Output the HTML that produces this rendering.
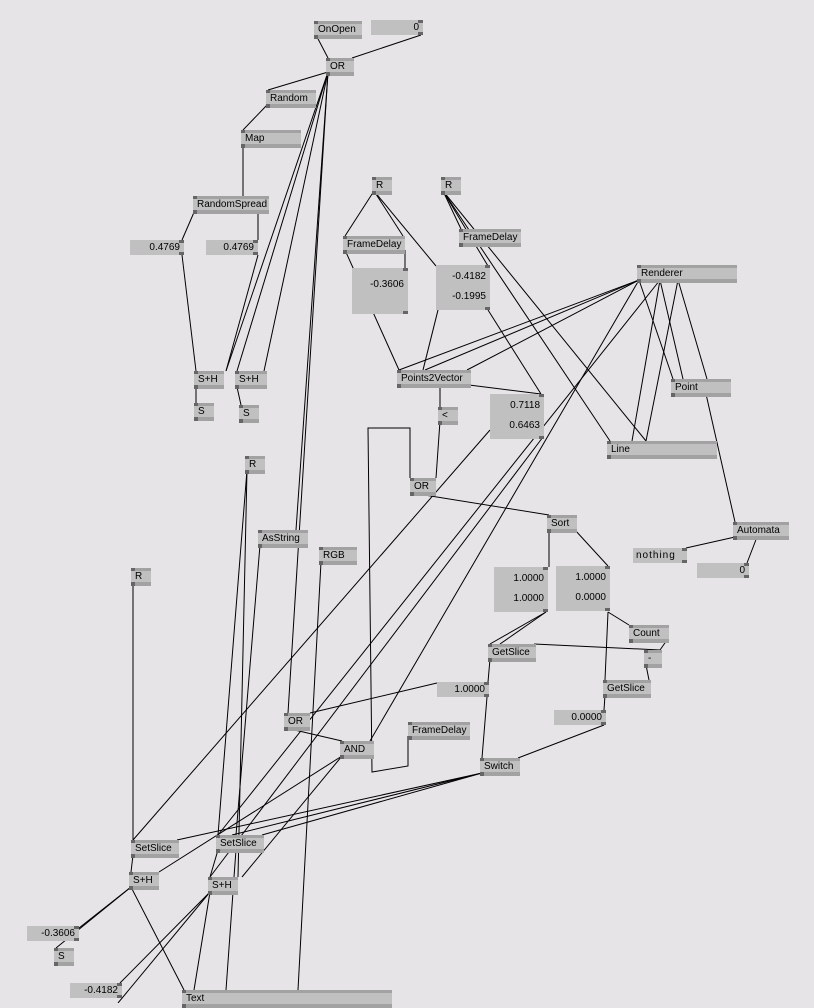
<!DOCTYPE html>
<html><head><meta charset="utf-8"><style>
html,body{margin:0;padding:0}
body{width:814px;height:1003px;background:#e7e4e7;position:relative;overflow:hidden;font-family:"Liberation Sans",sans-serif;font-size:10px;color:#000}
svg{position:absolute;left:0;top:0}
.n{position:absolute;height:11px;background:#c0c0c0;border-top:3px solid #a2a2a2;border-bottom:4px solid #a2a2a2;line-height:11px;padding-left:4px;box-sizing:content-box;white-space:nowrap}
.n::before{content:"";position:absolute;left:0;top:-3px;width:4px;height:3px;background:#666}
.n::after{content:"";position:absolute;left:0;bottom:-4px;width:4px;height:4px;background:#666}
.io{position:absolute;background:#c0c0c0;text-align:right;padding-right:4px;box-sizing:border-box;line-height:15px}
.io::before{content:"";position:absolute;right:0;top:0;width:5px;height:3px;background:#666}
.io::after{content:"";position:absolute;right:0;bottom:0;width:5px;height:3px;background:#666}
.io2{line-height:20px;padding-top:2px}
</style></head><body>
<svg width="814" height="1003" stroke="#000" stroke-width="1" fill="none">
<line x1="316" y1="35" x2="328" y2="58"/>
<line x1="421" y1="35" x2="352" y2="58"/>
<line x1="328" y1="72" x2="268" y2="90"/>
<line x1="328" y1="72" x2="226" y2="371"/>
<line x1="328" y1="72" x2="237" y2="371"/>
<line x1="328" y1="72" x2="264" y2="371"/>
<line x1="328" y1="72" x2="296" y2="530"/>
<line x1="328" y1="72" x2="288" y2="713"/>
<line x1="268" y1="104" x2="243" y2="130"/>
<line x1="243" y1="144" x2="243" y2="196"/>
<line x1="195" y1="210" x2="182" y2="240"/>
<line x1="258" y1="210" x2="258" y2="240"/>
<line x1="182" y1="255" x2="196" y2="371"/>
<line x1="258" y1="255" x2="226" y2="371"/>
<line x1="196" y1="387" x2="196" y2="403"/>
<line x1="237" y1="387" x2="241" y2="405"/>
<line x1="374" y1="191" x2="345" y2="236"/>
<line x1="374" y1="191" x2="403" y2="236"/>
<line x1="374" y1="191" x2="436" y2="266"/>
<line x1="443" y1="191" x2="461" y2="229"/>
<line x1="443" y1="191" x2="488" y2="266"/>
<line x1="443" y1="191" x2="610" y2="441"/>
<line x1="443" y1="191" x2="646" y2="441"/>
<line x1="345" y1="250" x2="399" y2="370"/>
<line x1="405" y1="250" x2="405" y2="268"/>
<line x1="438" y1="310" x2="423" y2="370"/>
<line x1="488" y1="310" x2="541" y2="394"/>
<line x1="639" y1="280" x2="399" y2="370"/>
<line x1="639" y1="280" x2="425" y2="370"/>
<line x1="639" y1="280" x2="467" y2="370"/>
<line x1="639" y1="280" x2="370" y2="741"/>
<line x1="660" y1="280" x2="218" y2="835"/>
<line x1="639" y1="280" x2="673" y2="379"/>
<line x1="660" y1="280" x2="683" y2="379"/>
<line x1="678" y1="280" x2="646" y2="441"/>
<line x1="678" y1="280" x2="707" y2="379"/>
<line x1="660" y1="280" x2="632" y2="441"/>
<line x1="469" y1="385" x2="541" y2="394"/>
<line x1="440" y1="385" x2="440" y2="407"/>
<line x1="440" y1="421" x2="436" y2="478"/>
<polyline points="410,478 410,428 368,428 372,772 408,766 408,736"/>
<line x1="412" y1="493" x2="549" y2="515"/>
<line x1="549" y1="530" x2="549" y2="567"/>
<line x1="575" y1="530" x2="608" y2="566"/>
<line x1="706" y1="394" x2="735" y2="522"/>
<line x1="735" y1="537" x2="686" y2="548"/>
<line x1="757" y1="537" x2="747" y2="563"/>
<line x1="546" y1="612" x2="490" y2="644"/>
<line x1="546" y1="612" x2="500" y2="644"/>
<line x1="534" y1="644" x2="660" y2="650"/>
<line x1="608" y1="612" x2="629" y2="625"/>
<line x1="667" y1="640" x2="660" y2="650"/>
<line x1="646" y1="665" x2="649" y2="680"/>
<line x1="608" y1="612" x2="605" y2="680"/>
<line x1="605" y1="695" x2="604" y2="710"/>
<line x1="604" y1="725" x2="518" y2="758"/>
<line x1="490" y1="659" x2="488" y2="682"/>
<line x1="487" y1="697" x2="482" y2="758"/>
<line x1="437" y1="683" x2="310" y2="713"/>
<line x1="286" y1="728" x2="342" y2="741"/>
<line x1="482" y1="773" x2="177" y2="840"/>
<line x1="482" y1="773" x2="262" y2="835"/>
<line x1="482" y1="773" x2="232" y2="835"/>
<line x1="490" y1="430" x2="133" y2="840"/>
<line x1="543" y1="437" x2="210" y2="877"/>
<line x1="342" y1="756" x2="159" y2="872"/>
<line x1="342" y1="756" x2="242" y2="877"/>
<line x1="133" y1="582" x2="133" y2="840"/>
<line x1="133" y1="855" x2="131" y2="872"/>
<line x1="131" y1="887" x2="79" y2="928"/>
<line x1="131" y1="887" x2="56" y2="948"/>
<line x1="131" y1="887" x2="184" y2="990"/>
<line x1="210" y1="892" x2="120" y2="983"/>
<line x1="210" y1="892" x2="118" y2="1003"/>
<line x1="210" y1="892" x2="194" y2="990"/>
<line x1="233" y1="892" x2="226" y2="990"/>
<line x1="247" y1="470" x2="218" y2="835"/>
<line x1="247" y1="470" x2="238" y2="877"/>
<line x1="260" y1="545" x2="236" y2="835"/>
<line x1="321" y1="562" x2="298" y2="990"/>
<line x1="236" y1="850" x2="234" y2="877"/>
<line x1="218" y1="850" x2="210" y2="877"/>
</svg>

<div class="n" style="left:314px;top:21px;width:44px">OnOpen</div>
<div class="io" style="left:371px;top:20px;width:52px;height:15px">0</div>
<div class="n" style="left:326px;top:58px;width:24px">OR</div>
<div class="n" style="left:266px;top:90px;width:46px">Random</div>
<div class="n" style="left:241px;top:130px;width:56px">Map</div>
<div class="n" style="left:193px;top:196px;width:72px">RandomSpread</div>
<div class="io" style="left:130px;top:240px;width:54px;height:15px">0.4769</div>
<div class="io" style="left:206px;top:240px;width:52px;height:15px">0.4769</div>
<div class="n" style="left:194px;top:371px;width:26px">S+H</div>
<div class="n" style="left:235px;top:371px;width:28px">S+H</div>
<div class="n" style="left:194px;top:403px;width:16px">S</div>
<div class="n" style="left:239px;top:405px;width:16px">S</div>
<div class="n" style="left:372px;top:177px;width:16px">R</div>
<div class="n" style="left:441px;top:177px;width:16px">R</div>
<div class="n" style="left:343px;top:236px;width:58px">FrameDelay</div>
<div class="n" style="left:459px;top:229px;width:58px">FrameDelay</div>
<div class="io" style="left:352px;top:268px;width:56px;height:46px;line-height:34px">-0.3606</div>
<div class="io io2" style="left:436px;top:265px;width:54px;height:45px">-0.4182<br>-0.1995</div>
<div class="n" style="left:637px;top:265px;width:96px">Renderer</div>
<div class="n" style="left:397px;top:370px;width:70px">Points2Vector</div>
<div class="io io2" style="left:490px;top:394px;width:54px;height:45px">0.7118<br>0.6463</div>
<div class="n" style="left:438px;top:407px;width:16px">&lt;</div>
<div class="n" style="left:671px;top:379px;width:56px">Point</div>
<div class="n" style="left:607px;top:441px;width:106px">Line</div>
<div class="n" style="left:410px;top:478px;width:22px">OR</div>
<div class="n" style="left:547px;top:515px;width:26px">Sort</div>
<div class="n" style="left:733px;top:522px;width:52px">Automata</div>
<div class="io" style="left:633px;top:548px;width:54px;height:15px;text-align:left;padding-left:3px;letter-spacing:1px">nothing</div>
<div class="io" style="left:697px;top:563px;width:52px;height:15px">0</div>
<div class="n" style="left:258px;top:530px;width:46px">AsString</div>
<div class="n" style="left:245px;top:456px;width:16px">R</div>
<div class="n" style="left:319px;top:547px;width:34px">RGB</div>
<div class="n" style="left:131px;top:568px;width:16px">R</div>
<div class="io io2" style="left:494px;top:567px;width:54px;height:45px">1.0000<br>1.0000</div>
<div class="io io2" style="left:556px;top:566px;width:54px;height:45px">1.0000<br>0.0000</div>
<div class="n" style="left:629px;top:625px;width:36px">Count</div>
<div class="n" style="left:644px;top:650px;width:14px">-</div>
<div class="n" style="left:488px;top:644px;width:44px">GetSlice</div>
<div class="n" style="left:603px;top:680px;width:44px">GetSlice</div>
<div class="io" style="left:437px;top:682px;width:52px;height:15px">1.0000</div>
<div class="io" style="left:554px;top:710px;width:52px;height:15px">0.0000</div>
<div class="n" style="left:284px;top:713px;width:22px">OR</div>
<div class="n" style="left:340px;top:741px;width:30px">AND</div>
<div class="n" style="left:408px;top:722px;width:58px">FrameDelay</div>
<div class="n" style="left:480px;top:758px;width:36px">Switch</div>
<div class="n" style="left:131px;top:840px;width:44px">SetSlice</div>
<div class="n" style="left:216px;top:835px;width:44px">SetSlice</div>
<div class="n" style="left:129px;top:872px;width:26px">S+H</div>
<div class="n" style="left:208px;top:877px;width:26px">S+H</div>
<div class="io" style="left:27px;top:926px;width:52px;height:15px">-0.3606</div>
<div class="n" style="left:54px;top:948px;width:16px">S</div>
<div class="io" style="left:70px;top:983px;width:52px;height:15px">-0.4182</div>
<div class="n" style="left:182px;top:990px;width:206px">Text</div>
</body></html>
